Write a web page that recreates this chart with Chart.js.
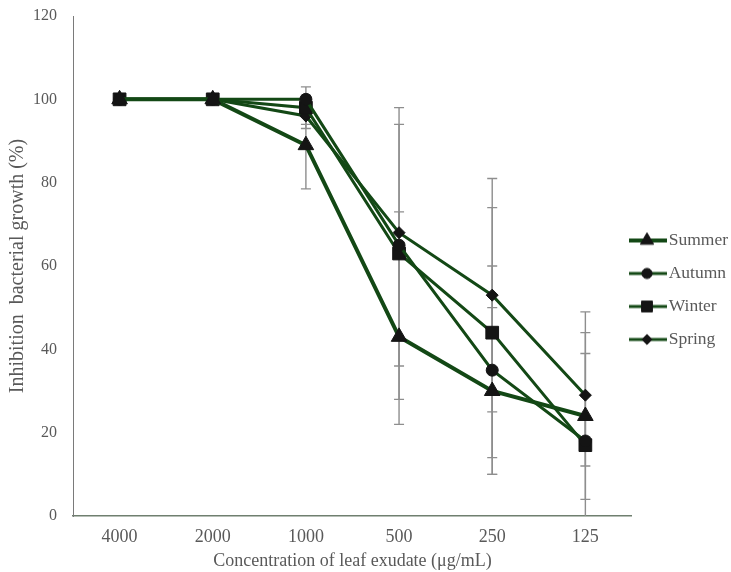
<!DOCTYPE html>
<html>
<head>
<meta charset="utf-8">
<script src="https://cdn.jsdelivr.net/npm/chart.js@4"></script>
<style>
  body { margin: 0; background: #fff; }
  #wrap { width: 731px; height: 572px; }
</style>
</head>
<body>
<div id="wrap"><canvas id="chart"></canvas></div>
<script>
// data
const concentrations = ["4000", "2000", "1000", "500", "250", "125"];
const yTicks = [0, 20, 40, 60, 80, 100, 120];

const summer = [100, 100, 89, 43, 30, 24];
const autumn = [100, 100, 100, 65, 35, 18];
const winter = [100, 100, 98, 63, 44, 17];
const spring = [100, 100, 96, 68, 53, 29];

// error bars (+/-)
const summerErr = [0, 0, 10.5, 21, 20, 20];
const autumnErr = [0, 0, 1, 29, 25, 6];
const winterErr = [0, 0, 5, 35, 30, 32];
const spring_err = [0, 0, 2, 5, 28, 10];

const lineColor = "#134815";
const markColor = "#141414";
const textColor = "#595959";
const fontFamily = "'Liberation Serif', 'Times New Roman', serif";

// little line+marker picture for the legend
function legendIcon(style, radius, lw) {
  const c = document.createElement("canvas");
  c.width = 40;
  c.height = 22;
  const g = c.getContext("2d");
  g.strokeStyle = lineColor;
  g.lineWidth = lw;
  g.beginPath();
  g.moveTo(1, 11);
  g.lineTo(39, 11);
  g.stroke();
  g.fillStyle = markColor;
  g.strokeStyle = markColor;
  g.lineWidth = 1;
  Chart.helpers.drawPoint(g, { pointStyle: style, radius: radius, borderWidth: 1, rotation: 0 }, 19, 11);
  return c;
}

const errorBars = {
  id: "errorBars",
  beforeDatasetsDraw(chart) {
    const ctx = chart.ctx;
    const area = chart.chartArea;
    const x = chart.scales.x;
    const y = chart.scales.y;
    ctx.save();
    ctx.beginPath();
    ctx.rect(area.left, area.top - 2, area.right - area.left, area.bottom - area.top + 2);
    ctx.clip();
    ctx.strokeStyle = "#8e8e8e";
    ctx.lineWidth = 1.4;
    chart.data.datasets.forEach((ds) => {
      ds.errors.forEach((e, i) => {
        if (!e) return;
        const px = x.getPixelForValue(i);
        const top = y.getPixelForValue(ds.data[i] + e);
        const bot = y.getPixelForValue(ds.data[i] - e);
        ctx.beginPath();
        ctx.moveTo(px, top);
        ctx.lineTo(px, bot);
        ctx.moveTo(px - 5, top);
        ctx.lineTo(px + 5, top);
        ctx.moveTo(px - 5, bot);
        ctx.lineTo(px + 5, bot);
        ctx.stroke();
      });
    });
    ctx.restore();
  }
};

// put the line+marker icons where the legend boxes are
const legendIcons = {
  id: "legendIcons",
  afterDraw(chart) {
    const lg = chart.legend;
    if (!lg || !lg.legendHitBoxes) return;
    lg.legendHitBoxes.forEach((hb, i) => {
      const icon = chart.data.datasets[i].icon;
      chart.ctx.drawImage(icon, hb.left - 5, hb.top + hb.height / 2 - icon.height / 2);
    });
  }
};

function makeSet(label, data, errors, style, radius, lw) {
  return {
    label: label,
    data: data,
    errors: errors,
    borderColor: lineColor,
    borderWidth: lw,
    backgroundColor: markColor,
    pointStyle: style,
    pointRadius: radius,
    pointHoverRadius: radius,
    pointBackgroundColor: markColor,
    pointBorderColor: markColor,
    pointBorderWidth: 1,
    tension: 0,
    fill: false,
    icon: legendIcon(style, radius * 0.85, lw)
  };
}

const datasets = [
  makeSet("Summer", summer, summerErr, "triangle", 9, 4),
  makeSet("Autumn", autumn, autumnErr, "circle", 6, 3),
  makeSet("Winter", winter, winterErr, "rect", 9, 3),
  makeSet("Spring", spring, spring_err, "rectRot", 6, 3)
];

new Chart(document.getElementById("chart"), {
  type: "line",
  data: { labels: concentrations, datasets: datasets },
  plugins: [errorBars, legendIcons],
  options: {
    responsive: true,
    maintainAspectRatio: false,
    animation: false,
    layout: { padding: { left: 4, right: -7, top: 8, bottom: 0 } },
    plugins: {
      tooltip: { enabled: false },
      legend: {
        position: "right",
        align: "center",
        labels: {
          boxWidth: 27,
          boxHeight: 32,
          padding: 1,
          color: textColor,
          font: { family: fontFamily, size: 17.5 },
          generateLabels(chart) {
            return chart.data.datasets.map((ds, i) => ({
              text: ds.label,
              datasetIndex: i,
              hidden: false,
              fillStyle: "rgba(0,0,0,0)",
              strokeStyle: "rgba(0,0,0,0)",
              lineWidth: 0,
              fontColor: textColor
            }));
          }
        }
      }
    },
    scales: {
      x: {
        offset: true,
        afterFit(s) { s.height = 56; },
        grid: { display: false, drawTicks: false },
        border: { display: true, color: "#6f7f6f", width: 1.5 },
        ticks: { color: textColor, padding: 10, font: { family: fontFamily, size: 18 } },
        title: {
          display: true,
          text: "Concentration of leaf exudate (μg/mL)",
          color: textColor,
          font: { family: fontFamily, size: 18 },
          padding: { top: 0, bottom: 0 }
        }
      },
      y: {
        min: 0,
        max: 120,
        afterBuildTicks(scale) {
          scale.ticks = yTicks.map((v) => ({ value: v }));
        },
        afterFit(s) {
          s.width = 69;
          s.paddingTop = 16;
          s.paddingBottom = 4;
        },
        grid: { display: false, drawTicks: false },
        border: { display: true, color: "#7a7a7a", width: 1 },
        ticks: { color: textColor, padding: 16, font: { family: fontFamily, size: 16 } },
        title: {
          display: true,
          text: "Inhibition  bacterial growth (%)",
          color: textColor,
          font: { family: fontFamily, size: 20 },
          padding: { top: 2, bottom: 0 }
        }
      }
    }
  }
});
</script>
</body>
</html>
